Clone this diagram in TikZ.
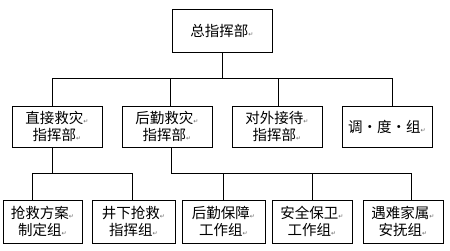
\documentclass[tikz,border=0pt]{standalone}
\usepackage{fontspec}
\setmainfont{Noto Sans CJK SC}
\newfontfamily\dejavu{DejaVu Sans}
\newcommand{\rt}{{\dejavu\fontsize{6}{6}\selectfont\color{black!60}↵}}
\begin{document}
\begin{tikzpicture}[x=1pt,y=-1pt,
  box/.style={draw=black,line width=0.8pt,align=center,inner sep=0pt,
    font=\fontsize{14.5}{17}\selectfont},
  conn/.style={draw=black,line width=0.7pt}]
\useasboundingbox (0,0) rectangle (450,250);
\fill[white] (0,0) rectangle (450,250);
\node[box,minimum width=100pt,minimum height=43pt] (top) at (222,30.5) {总指挥部\rt};
\node[box,minimum width=90pt,minimum height=41pt] (m1) at (57,126.5) {直接救灾\rt\\指挥部\rt};
\node[box,minimum width=90pt,minimum height=41pt] (m2) at (167,126.5) {后勤救灾\rt\\指挥部\rt};
\node[box,minimum width=90pt,minimum height=41pt] (m3) at (277,126.5) {对外接待\rt\\指挥部\rt};
\node[box,minimum width=90pt,minimum height=41pt] (m4) at (387,126.5) {调·度·组\rt};
\node[box,minimum width=79pt,minimum height=43pt] (b1) at (42.5,221.5) {抢救方案\rt\\制定组\rt};
\node[box,minimum width=83pt,minimum height=43pt] (b2) at (133.5,221.5) {井下抢救\rt\\指挥组\rt};
\node[box,minimum width=83pt,minimum height=43pt] (b3) at (223.5,221.5) {后勤保障\rt\\工作组\rt};
\node[box,minimum width=80pt,minimum height=43pt] (b4) at (312,221.5) {安全保卫\rt\\工作组\rt};
\node[box,minimum width=80pt,minimum height=43pt] (b5) at (403,221.5) {遇难家属\rt\\安抚组\rt};
% level 1 bus
\coordinate (t0) at (222,78);
\coordinate (t1) at (52,78);
\coordinate (t2) at (170,78);
\coordinate (t3) at (278,78);
\coordinate (t4) at (392,78);
\draw[conn] (top.south) -- (t0);
\draw[conn] (t1) -- (t4);
\draw[conn] (t1) -- (t1 |- m1.north);
\draw[conn] (t2) -- (t2 |- m2.north);
\draw[conn] (t3) -- (t3 |- m3.north);
\draw[conn] (t4) -- (t4 |- m4.north);
% level 2 bus left
\coordinate (u0) at (52,173);
\coordinate (u1) at (32,173);
\coordinate (u2) at (132,173);
\draw[conn] (u0 |- m1.south) -- (u0);
\draw[conn] (u1) -- (u2);
\draw[conn] (u1) -- (u1 |- b1.north);
\draw[conn] (u2) -- (u2 |- b2.north);
% level 2 bus right
\coordinate (v0) at (171,173);
\coordinate (v1) at (223,173);
\coordinate (v2) at (312,173);
\coordinate (v3) at (411,173);
\draw[conn] (v0 |- m2.south) -- (v0);
\draw[conn] (v0) -- (v3);
\draw[conn] (v1) -- (v1 |- b3.north);
\draw[conn] (v2) -- (v2 |- b4.north);
\draw[conn] (v3) -- (v3 |- b5.north);
\end{tikzpicture}
\end{document}
